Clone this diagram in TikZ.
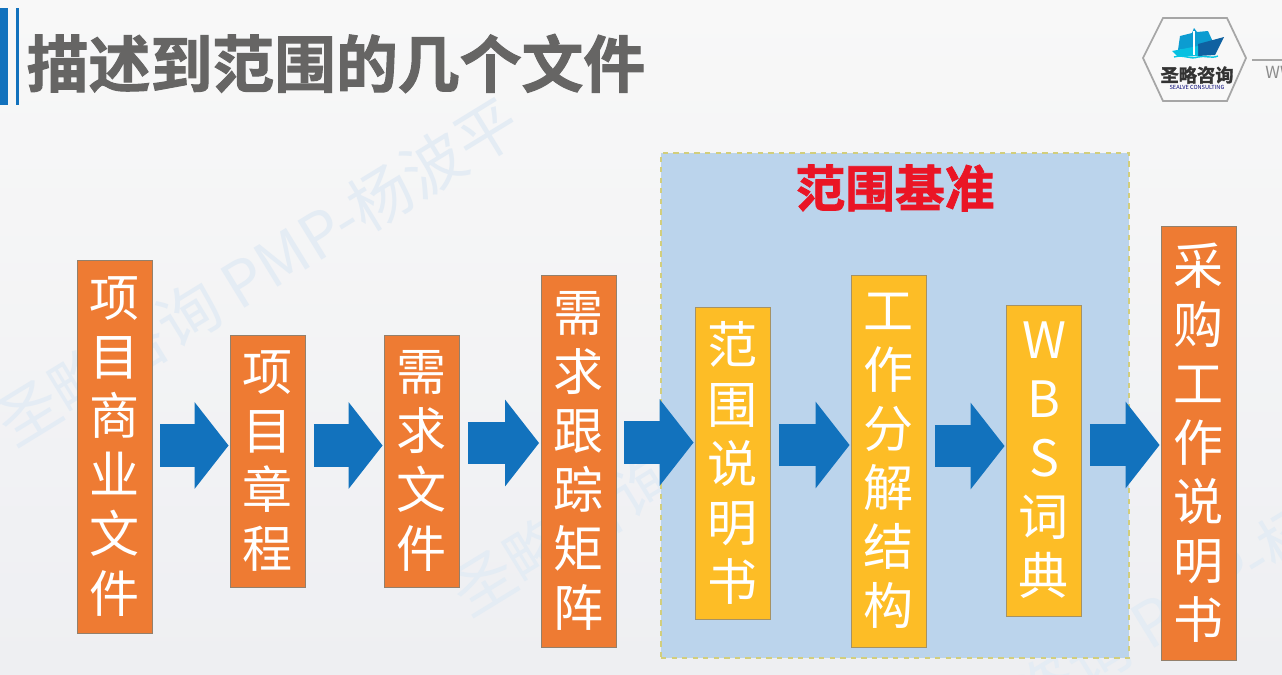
\documentclass[tikz,border=0pt]{standalone}
\usepackage{fontspec}
\usepackage{xcolor}
\usepackage{tikz}
\usetikzlibrary{shapes, arrows.meta, positioning}
\newfontfamily\cjk{Noto Sans CJK SC}
\newfontfamily\cjkheavy[FakeBold=1.6]{Noto Sans CJK SC Bold}
\definecolor{boxorange}{HTML}{EE7B33}
\definecolor{boxgold}{HTML}{FDBD26}
\definecolor{flowblue}{HTML}{1272BD}
\definecolor{basefill}{HTML}{BBD4EC}
\definecolor{basedash}{HTML}{D2CE7C}
\definecolor{titlegray}{HTML}{666564}
\definecolor{titlered}{HTML}{EA1525}
\definecolor{markblue}{HTML}{E4ECF4}
\definecolor{pagetop}{HTML}{F8F8F8}
\definecolor{pagebottom}{HTML}{EEEFF2}

\begin{document}
\begin{tikzpicture}
  [
    x=0.02cm, y=-0.02cm,
    Orange/.style={rectangle, draw=gray!85!orange, line width=0.5pt, fill=boxorange, text=white, font=\cjk\fontsize{28.5}{33.6}\selectfont, align=center, minimum width=1.5cm, inner sep=0pt},
    Gold/.style={Orange, draw=gray!70!boxgold, fill=boxgold},
    Flow/.style={draw=flowblue, line width=0.85cm, -{Triangle[length=0.68cm, width=1.7cm]}, shorten <=0.16cm, shorten >=0.03cm},
    Mark/.style={text=markblue, font=\cjk\fontsize{35.5}{35.5}\selectfont, rotate=31.5},
    Base/.style={rectangle, draw=basedash, dashed, line width=0.7pt, fill=basefill, minimum width=9.36cm, minimum height=10.1cm}
  ]
  \useasboundingbox (0,0) rectangle (1282,674);
  \shade [top color=pagetop, bottom color=pagebottom] (0,0) rectangle (1282,674);

  % Watermarks
  \begin{scope}
    \clip (0,0) rectangle (1282,674);
    \node[Mark] (m1) at (258,272) {圣略咨询 PMP-杨波平};
    \node[Mark] (m2) at (713,442) {圣略咨询 PMP-杨波平};
    \node[Mark] (m3) at (1168,612) {圣略咨询 PMP-杨波平};
    \node[text=gray!90, font=\cjk\fontsize{9.5}{9.5}\selectfont, anchor=west, inner sep=0pt] (web) at (1265,72) {WWW};
  \end{scope}

  % Header
  \fill [flowblue] (0,8) rectangle (8,105);
  \fill [flowblue] (15.5,8) rectangle (18.5,105);
  \node[text=titlegray, font=\cjkheavy\fontsize{35.2}{35.2}\selectfont, inner sep=0pt] (title) at (336,63.5) {描述到范围的几个文件};

  % Logo
  \draw [gray!70, line width=1pt, fill=pagetop] (1143,58) -- (1163,18) -- (1227,18) -- (1246,58) -- (1227,101) -- (1163,101) -- cycle;
  \fill [flowblue!70!cyan] (1180,36) -- (1192,33) -- (1194,28) -- (1197,32) -- (1208,31) -- (1213,42) -- (1196,48) -- (1178,50) -- cycle;
  \fill [flowblue!85!black] (1198,44) -- (1224,37) -- (1215,55) -- (1198,56) -- cycle;
  \fill [flowblue!45!cyan] (1172,51) -- (1198,46) -- (1198,56) -- (1178,57) -- cycle;
  \draw [white, line width=0.7pt] (1194,31) -- (1194,55);
  \draw [flowblue!40!cyan, line width=0.8pt] (1174,57) .. controls (1184,54) and (1190,60) .. (1198,57) .. controls (1205,55) and (1211,59) .. (1218,56);
  \node[text=black!80, font=\cjkheavy\fontsize{10.4}{10.4}\selectfont, inner sep=0pt] (brand) at (1197,75) {圣略咨询};
  \node[text=blue!45!black, font=\cjk\fontsize{3.2}{3.2}\selectfont, inner sep=0pt] (brandsub) at (1197,87) {SEALVE CONSULTING};
  \draw [gray!70, line width=0.6pt] (1252,60) -- (1282,60);

  % Nodes
  \node[Base] (r1) at (895,405.5) {};
  \node[text=titlered, font=\cjkheavy\fontsize{28.3}{28.3}\selectfont, inner sep=0pt] (r1title) at (895,188) {范围基准};

  \node[Orange, minimum height=7.46cm] (v1) at (114.5,446.5) {项\\目\\商\\业\\文\\件};

  \node[Orange, minimum height=5.04cm] (v2) at (268,461) {项\\目\\章\\程};

  \node[Orange, minimum height=5.04cm] (v3) at (422,461) {需\\求\\文\\件};

  \node[Orange, minimum height=7.44cm] (v4) at (578.5,461) {需\\求\\跟\\踪\\矩\\阵};

  \node[Gold, minimum height=6.24cm] (v5) at (733,463) {范\\围\\说\\明\\书};

  \node[Gold, minimum height=7.44cm] (v6) at (889,461) {工\\作\\分\\解\\结\\构};

  \node[Gold, minimum height=6.22cm] (v7) at (1044,460.5) {W\\B\\S\\词\\典};

  \node[Orange, minimum height=8.68cm] (v8) at (1199,443) {采\\购\\工\\作\\说\\明\\书};

  % Rows of the arrows
  \coordinate (h1) at (0,445.5);
  \coordinate (h2) at (0,445.5);
  \coordinate (h3) at (0,443);
  \coordinate (h4) at (0,442.5);
  \coordinate (h5) at (0,445);
  \coordinate (h6) at (0,446);
  \coordinate (h7) at (0,445);

  % Lines
  \path [Flow] (v1.east |- h1) -- (v2.west |- h1);
  \path [Flow] (v2.east |- h2) -- (v3.west |- h2);
  \path [Flow] (v3.east |- h3) -- (v4.west |- h3);
  \path [Flow] (v4.east |- h4) -- (v5.west |- h4);
  \path [Flow] (v5.east |- h5) -- (v6.west |- h5);
  \path [Flow] (v6.east |- h6) -- (v7.west |- h6);
  \path [Flow] (v7.east |- h7) -- (v8.west |- h7);

\end{tikzpicture}
\end{document}
